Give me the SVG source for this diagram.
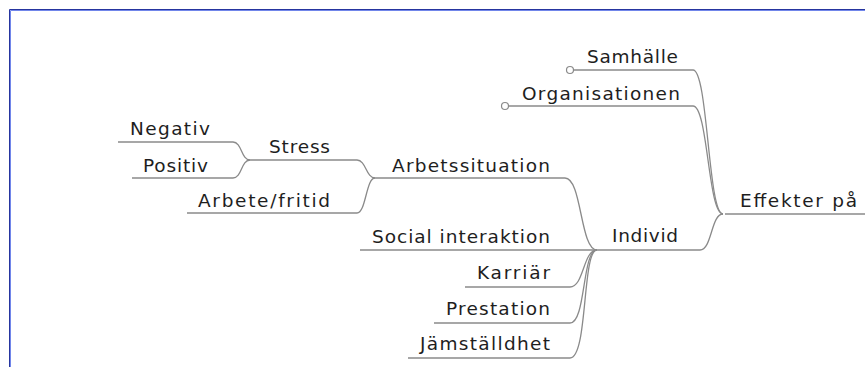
<svg xmlns="http://www.w3.org/2000/svg" width="865" height="367" viewBox="0 0 865 367">
<style>
.t{font-family:"DejaVu Sans","Liberation Sans",sans-serif;font-size:18.5px;fill:#1e1e1e}
.e{fill:none;stroke:#8a8a8a;stroke-width:1.3}
.c{fill:#fff;stroke:#8a8a8a;stroke-width:1.2}
</style>
<rect width="865" height="367" fill="#fff"/>
<g id="frame">
<path d="M9.5,367 V9.5 H865" fill="none" stroke="#26359f" stroke-width="1"/>
<path d="M10.5,367 V10.5 H865" fill="none" stroke="#7186ea" stroke-width="1"/>
</g>
<g id="connectors">
<path class="e" d="M725,214 H865"/>
<path class="e" d="M573.5,70 H693 C708,70 708,214 723,214"/>
<path class="e" d="M508.5,106 H693 C708,106 708,214 723,214"/>
<path class="e" d="M597,250 H700 C712,250 711,214 723,214"/>
<path class="e" d="M375,178 H565 C582,178 580,250 597,250"/>
<path class="e" d="M250,160 H357 C366,160 366,178 375,178"/>
<path class="e" d="M187,213 H357 C366,213 366,178 375,178"/>
<path class="e" d="M118,142 H233 C242,142 241,160 250,160"/>
<path class="e" d="M132,178 H233 C242,178 241,160 250,160"/>
<path class="e" d="M360,250 H597"/>
<path class="e" d="M465,287 H570 C584,287 583,250 597,250"/>
<path class="e" d="M434,323 H570 C586,323 582,250 597,250"/>
<path class="e" d="M408,358 H570 C588,358 582,250 597,250"/>
<circle class="c" cx="570" cy="70" r="3.5"/>
<circle class="c" cx="505" cy="106" r="3.5"/>
</g>
<g id="n-effekter"><text class="t" x="740" y="207" textLength="117" lengthAdjust="spacing">Effekter på</text></g>
<g id="n-samhalle"><text class="t" x="587" y="63" textLength="91" lengthAdjust="spacing">Samhälle</text></g>
<g id="n-organisationen"><text class="t" x="522" y="100" textLength="158" lengthAdjust="spacing">Organisationen</text></g>
<g id="n-individ"><text class="t" x="612" y="242" textLength="66" lengthAdjust="spacing">Individ</text></g>
<g id="n-arbetssituation"><text class="t" x="392" y="172" textLength="158" lengthAdjust="spacing">Arbetssituation</text></g>
<g id="n-stress"><text class="t" x="269" y="153" textLength="61" lengthAdjust="spacing">Stress</text></g>
<g id="n-negativ"><text class="t" x="130" y="135" textLength="80" lengthAdjust="spacing">Negativ</text></g>
<g id="n-positiv"><text class="t" x="143" y="172" textLength="65" lengthAdjust="spacing">Positiv</text></g>
<g id="n-arbete-fritid"><text class="t" x="198" y="207" textLength="132" lengthAdjust="spacing">Arbete/fritid</text></g>
<g id="n-social"><text class="t" x="372" y="243" textLength="178" lengthAdjust="spacing">Social interaktion</text></g>
<g id="n-karriar"><text class="t" x="477" y="279" textLength="73" lengthAdjust="spacing">Karriär</text></g>
<g id="n-prestation"><text class="t" x="446" y="315" textLength="104" lengthAdjust="spacing">Prestation</text></g>
<g id="n-jamstalldhet"><text class="t" x="420" y="350" textLength="130" lengthAdjust="spacing">Jämställdhet</text></g>
</svg>
